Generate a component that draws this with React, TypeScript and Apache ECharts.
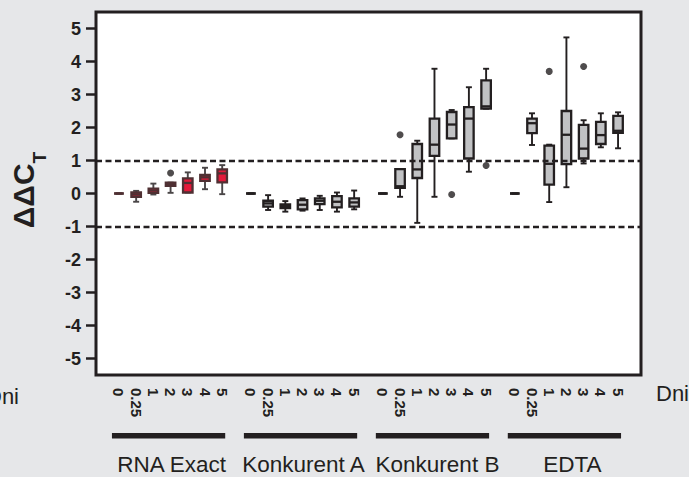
import React, { useEffect, useRef } from 'react';
import * as echarts from 'echarts';

// ---------- data ----------
const days = ['0', '0.25', '1', '2', '3', '4', '5'];
const groups = ['RNA Exact', 'Konkurent A', 'Konkurent B', 'EDTA'];
const yTicks = [-5, -4, -3, -2, -1, 0, 1, 2, 3, 4, 5];
const thresholds = [1, -1];

// per day: [min, Q1, median, Q3, max]
const rnaExact = [
  [0, 0, 0, 0, 0],
  [-0.25, -0.1, -0.03, 0.03, 0.08],
  [-0.03, 0.02, 0.09, 0.15, 0.3],
  [0.02, 0.23, 0.29, 0.33, 0.33],
  [0.03, 0.03, 0.32, 0.46, 0.64],
  [0.13, 0.38, 0.49, 0.56, 0.78],
  [-0.02, 0.34, 0.61, 0.73, 0.86],
];
const konkurentA = [
  [0, 0, 0, 0, 0],
  [-0.5, -0.4, -0.3, -0.22, -0.05],
  [-0.55, -0.44, -0.38, -0.33, -0.23],
  [-0.52, -0.48, -0.34, -0.2, -0.15],
  [-0.5, -0.32, -0.22, -0.15, -0.07],
  [-0.55, -0.42, -0.25, -0.08, 0.03],
  [-0.48, -0.4, -0.27, -0.15, 0.09],
];
const konkurentB = [
  [0, 0, 0, 0, 0],
  [-0.1, 0.17, 0.22, 0.74, 0.74],
  [-0.89, 0.47, 0.73, 1.5, 1.6],
  [-0.1, 1.14, 1.48, 2.27, 3.78],
  [1.67, 1.67, 2.09, 2.47, 2.53],
  [0.66, 1.06, 2.27, 2.62, 3.22],
  [2.57, 2.57, 2.64, 3.43, 3.78],
];
const edta = [
  [0, 0, 0, 0, 0],
  [1.47, 1.83, 2.13, 2.27, 2.43],
  [-0.26, 0.27, 0.9, 1.45, 1.48],
  [0.19, 0.89, 1.78, 2.5, 4.73],
  [0.91, 1.06, 1.36, 2.08, 2.22],
  [1.4, 1.5, 1.77, 2.17, 2.43],
  [1.37, 1.84, 1.9, 2.35, 2.46],
];
// outliers: [dayIndex, value]
const rnaExactOutliers = [[3, 0.62]];
const konkurentAOutliers: number[][] = [];
const konkurentBOutliers = [[1, 1.78], [4, -0.03], [6, 0.85]];
const edtaOutliers = [[2, 3.7], [4, 3.85]];

const groupStats = [rnaExact, konkurentA, konkurentB, edta];
const groupOutliers = [rnaExactOutliers, konkurentAOutliers, konkurentBOutliers, edtaOutliers];

// ---------- layout / style ----------
const INK = '#231f20';
const BG = '#e6e7e9';
const FONT = '"Liberation Sans", Arial, Helvetica, sans-serif';
const LEAD = 4;
const GROUP_STEP = 23;
const DAY_STEP = 3;
const TRAIL = 4;
const nCat = LEAD + GROUP_STEP * (groups.length - 1) + DAY_STEP * (days.length - 1) + TRAIL + 1;
const catIndex = (g: number, d: number) => LEAD + g * GROUP_STEP + d * DAY_STEP;
const categories: string[] = Array.from({ length: nCat }, () => '');
groups.forEach((_, g) => days.forEach((day, d) => { categories[catIndex(g, d)] = day; }));

const groupStyle = [
  { fill: '#e3193a', stroke: '#4f3033', whisker: '#4a4647' },
  { fill: '#c1c2c4', stroke: INK, whisker: INK },
  { fill: '#c1c2c4', stroke: INK, whisker: INK },
  { fill: '#c1c2c4', stroke: INK, whisker: INK },
];
const labelShift = [1, 1, 3, 6];

const makeRender = (fill: string, stroke: string, whisker: string) => (params: any, api: any) => {
  const x = api.value(0);
  const p = [1, 2, 3, 4, 5].map((i) => api.coord([x, api.value(i)]));
  const cx = p[0][0];
  const yMin = p[0][1], yQ1 = p[1][1], yMed = p[2][1], yQ3 = p[3][1], yMax = p[4][1];
  const hw = 4.75;
  const cw = 3;
  const ws = { stroke: whisker, lineWidth: 1.9 };
  return {
    type: 'group',
    children: [
      { type: 'line', shape: { x1: cx, y1: yMax, x2: cx, y2: yQ3 }, style: ws },
      { type: 'line', shape: { x1: cx, y1: yQ1, x2: cx, y2: yMin }, style: ws },
      { type: 'line', shape: { x1: cx - cw, y1: yMax, x2: cx + cw, y2: yMax }, style: ws },
      { type: 'line', shape: { x1: cx - cw, y1: yMin, x2: cx + cw, y2: yMin }, style: ws },
      { type: 'rect', shape: { x: cx - hw, y: yQ3, width: 2 * hw, height: yQ1 - yQ3 }, style: { fill, stroke, lineWidth: 2.3 } },
      { type: 'line', shape: { x1: cx - hw, y1: yMed, x2: cx + hw, y2: yMed }, style: { stroke, lineWidth: 2.3 } },
    ],
  };
};

export default function App() {
  const ref = useRef<HTMLDivElement>(null);
  useEffect(() => {
    document.body.style.margin = '0';
    document.body.style.background = BG;
    const chart = echarts.init(ref.current!, null, { renderer: 'svg' });

    const boxSeries = groups.map((name, g) => ({
      type: 'custom',
      name,
      renderItem: makeRender(groupStyle[g].fill, groupStyle[g].stroke, groupStyle[g].whisker),
      encode: { x: 0, y: [1, 2, 3, 4, 5] },
      data: groupStats[g].map((s, d) => [catIndex(g, d), ...s]),
      z: 3,
    }));
    const outlierData: number[][] = [];
    groupOutliers.forEach((list, g) => list.forEach(([d, v]) => outlierData.push([catIndex(g, d), v])));

    chart.setOption({
      animation: false,
      backgroundColor: BG,
      grid: {
        left: 96, right: 48, top: 12, bottom: 102,
        show: true, backgroundColor: '#ffffff', borderColor: INK, borderWidth: 3,
      },
      xAxis: {
        type: 'category',
        data: categories,
        boundaryGap: false,
        axisLine: { show: false },
        axisTick: { show: false },
        splitLine: { show: false },
        axisLabel: {
          interval: 0, rotate: -90, margin: 13,
          fontFamily: FONT, fontWeight: 'bold', fontSize: 15, color: INK,
        },
      },
      yAxis: {
        type: 'value',
        min: -5.5, max: 5.5,
        axisLine: { show: false },
        splitLine: { show: false },
        axisTick: { show: true, inside: false, length: 10, customValues: yTicks, lineStyle: { color: INK, width: 2.5 } },
        axisLabel: { customValues: yTicks, margin: 15, fontFamily: FONT, fontWeight: 'bold', fontSize: 18, color: INK },
      },
      series: [
        ...boxSeries,
        {
          type: 'scatter',
          data: outlierData,
          symbol: 'circle',
          symbolSize: 7,
          itemStyle: { color: INK },
          z: 4,
          markLine: {
            silent: true,
            symbol: 'none',
            label: { show: false },
            lineStyle: { color: INK, width: 2.4, type: [6, 3.5] },
            data: thresholds.map((v) => ({ yAxis: v })),
          },
        },
      ],
    });

    const px = (idx: number) => (chart.convertToPixel({ gridIndex: 0 }, [idx, 0]) as number[])[0];
    const graphics: any[] = [];
    groups.forEach((name, g) => {
      const x0 = px(catIndex(g, 0));
      const x1 = px(catIndex(g, days.length - 1));
      graphics.push({ type: 'rect', shape: { x: x0 - 7, y: 433, width: x1 - x0 + 10, height: 5.5 }, style: { fill: INK } });
      graphics.push({
        type: 'text', x: (x0 + x1) / 2 + labelShift[g], y: 464,
        style: { text: name, fontSize: 22.5, fontFamily: FONT, fill: INK, align: 'center', verticalAlign: 'middle' },
      });
    });
    graphics.push({ type: 'text', x: -14, y: 396, style: { text: 'Dni', fontSize: 22, fontFamily: FONT, fill: INK, align: 'left', verticalAlign: 'middle' } });
    graphics.push({ type: 'text', x: 656, y: 393, style: { text: 'Dni', fontSize: 22, fontFamily: FONT, fill: INK, align: 'left', verticalAlign: 'middle' } });
    graphics.push({
      type: 'text', x: 39, y: 190, rotation: Math.PI / 2,
      style: {
        text: '{a|ΔΔC}{b|T}',
        align: 'center', verticalAlign: 'middle',
        rich: {
          a: { fontSize: 30, fontWeight: 'bold', fontFamily: FONT, fill: INK, color: INK, lineHeight: 30, verticalAlign: 'top' },
          b: { fontSize: 19, fontWeight: 'bold', fontFamily: FONT, fill: INK, color: INK, lineHeight: 62 },
        },
      },
    });
    chart.setOption({ graphic: graphics });

    return () => chart.dispose();
  }, []);
  return <div ref={ref} style={{ position: 'fixed', left: 0, top: 0, width: 689, height: 477, background: BG }} />;
}
